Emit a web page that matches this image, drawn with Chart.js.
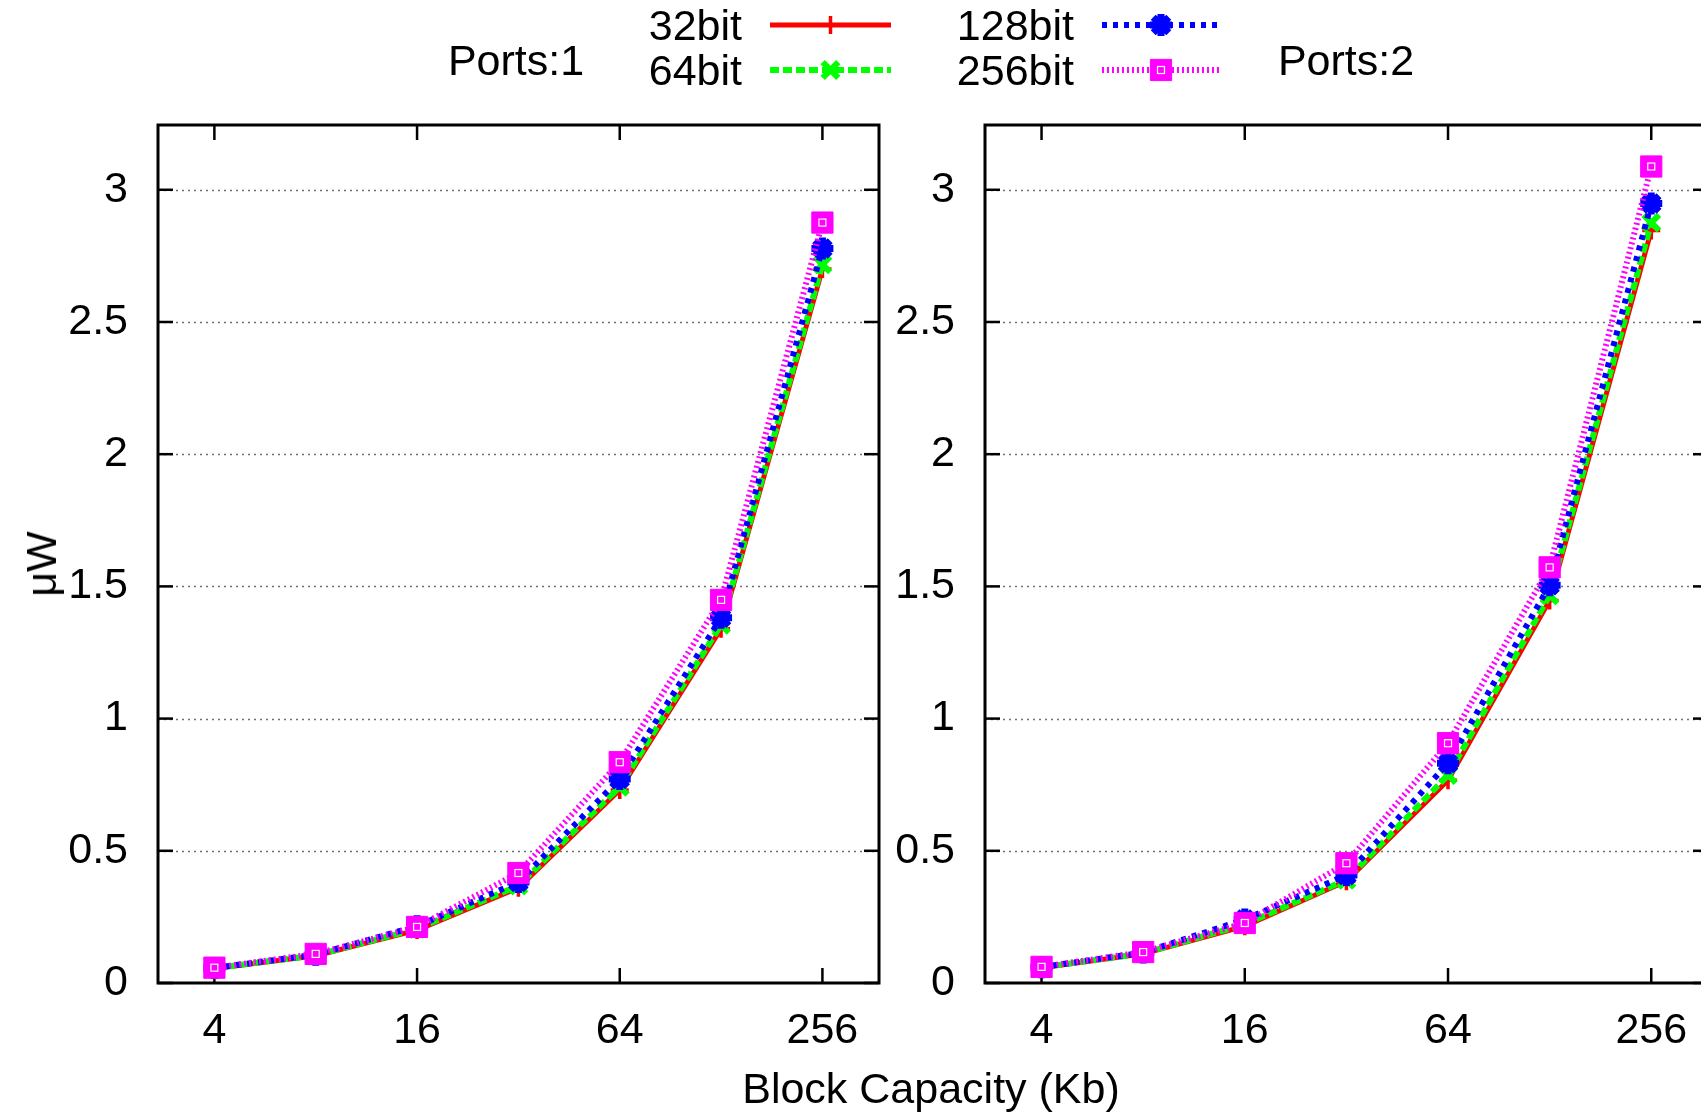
<!DOCTYPE html>
<html>
<head>
<meta charset="utf-8">
<title>Block capacity power</title>
<script src="https://cdn.jsdelivr.net/npm/chart.js"></script>
<style>
  html, body { margin: 0; padding: 0; background: #fff; overflow: hidden; }
  body { width: 1701px; height: 1112px; position: relative; font-family: "Liberation Sans", Arial, sans-serif; color: #000; }
  canvas { position: absolute; top: 0; }
  #left { left: 0; }
  #right { left: 827px; }
  #keys { left: 0; pointer-events: none; }
  .lbl { position: absolute; font-size: 43px; line-height: 42px; height: 42px; white-space: nowrap; }
</style>
</head>
<body>
  <canvas id="left" width="920" height="1112"></canvas>
  <canvas id="right" width="922" height="1112"></canvas>
  <canvas id="keys" width="1701" height="100"></canvas>

  <div class="lbl" style="left:516px; top:39px; transform:translateX(-50%)">Ports:1</div>
  <div class="lbl" style="right:959px; top:4px">32bit</div>
  <div class="lbl" style="right:959px; top:49px">64bit</div>
  <div class="lbl" style="right:627px; top:4px">128bit</div>
  <div class="lbl" style="right:627px; top:49px">256bit</div>
  <div class="lbl" style="left:1346px; top:39px; transform:translateX(-50%)">Ports:2</div>
  <div class="lbl" style="left:931px; top:1067px; transform:translateX(-50%)">Block Capacity (Kb)</div>
  <div class="lbl" style="left:41px; top:564px; transform:translate(-50%, -50%) rotate(-90deg)">μW</div>

<script>
// block sizes in Kb
const CAPACITY = [4, 8, 16, 32, 64, 128, 256];
const X_TICKS = [4, 16, 64, 256];
const Y_TICKS = [0, 0.5, 1, 1.5, 2, 2.5, 3];
const SERIES_NAMES = ['32bit', '64bit', '128bit', '256bit'];

// power (uW), single port
const P1_32 = [0.055, 0.103, 0.200, 0.360, 0.730, 1.340, 2.700];
const P1_64 = [0.056, 0.105, 0.205, 0.368, 0.742, 1.355, 2.718];
const P1_128 = [0.057, 0.107, 0.215, 0.382, 0.772, 1.381, 2.778];
const P1_256 = [0.058, 0.110, 0.212, 0.416, 0.835, 1.449, 2.876];

// power (uW), dual port
const P2_32 = [0.058, 0.110, 0.215, 0.385, 0.767, 1.447, 2.846];
const P2_64 = [0.059, 0.112, 0.222, 0.390, 0.786, 1.466, 2.876];
const P2_128 = [0.060, 0.115, 0.240, 0.408, 0.831, 1.504, 2.948];
const P2_256 = [0.061, 0.117, 0.227, 0.453, 0.907, 1.572, 3.088];

const FONT = '"Liberation Sans", Arial, sans-serif';

const STYLES = [
  { color: '#ff0000', width: 5, dash: [], point: 'cross', radius: 9, pw: 3.5 },
  { color: '#00ff00', width: 6, dash: [9, 4], point: 'crossRot', radius: 11, pw: 6 },
  { color: '#0000ff', width: 6, dash: [5, 6], point: 'star', radius: 11, pw: 7 },
  { color: '#ff00ff', width: 6, dash: [2, 3], point: 'rect', radius: 15, pw: 1 }
];

function makeDatasets(series) {
  return series.map((vals, i) => {
    const s = STYLES[i];
    return {
      label: SERIES_NAMES[i],
      data: CAPACITY.map((c, j) => ({ x: c, y: vals[j] })),
      borderColor: s.color,
      backgroundColor: s.color,
      borderWidth: s.width,
      borderDash: s.dash,
      tension: 0,
      pointStyle: s.point,
      pointRadius: s.radius,
      pointBorderWidth: s.pw,
      pointBackgroundColor: s.color,
      pointBorderColor: s.color,
      order: 3 - i // later series drawn on top
    };
  });
}

// gnuplot-like box: dotted grid, inward ticks on all four sides
const framePlugin = {
  id: 'frame',
  beforeDatasetsDraw(chart) {
    const { ctx, chartArea: a } = chart;
    const x = chart.scales.x, y = chart.scales.y;
    const seg = (x1, y1, x2, y2) => { ctx.beginPath(); ctx.moveTo(x1, y1); ctx.lineTo(x2, y2); ctx.stroke(); };
    ctx.save();
    ctx.strokeStyle = '#707070';
    ctx.lineWidth = 1.5;
    ctx.setLineDash([2, 4]);
    Y_TICKS.forEach(v => {
      if (v === 0) return;
      const py = Math.round(y.getPixelForValue(v)) + 0.5;
      seg(a.left, py, a.right, py);
    });
    ctx.setLineDash([]);
    ctx.strokeStyle = '#000';
    ctx.lineWidth = 2.5;
    const tl = 15;
    Y_TICKS.forEach(v => {
      const py = y.getPixelForValue(v);
      seg(a.left, py, a.left + tl, py);
      seg(a.right, py, a.right - tl, py);
    });
    X_TICKS.forEach(v => {
      const px = x.getPixelForValue(v);
      seg(px, a.bottom, px, a.bottom - tl);
      seg(px, a.top, px, a.top + tl);
    });
    ctx.lineWidth = 3;
    ctx.strokeRect(a.left, a.top, a.right - a.left, a.bottom - a.top);
    ctx.restore();
  },
  afterDatasetsDraw(chart) {
    // small hollow centre on the square markers
    const { ctx } = chart;
    const meta = chart.getDatasetMeta(3);
    ctx.save();
    ctx.strokeStyle = '#fff';
    ctx.lineWidth = 1.2;
    meta.data.forEach(pt => ctx.strokeRect(pt.x - 3.5, pt.y - 3.5, 7, 7));
    ctx.restore();
  }
};

function makeChart(id, series) {
  return new Chart(document.getElementById(id), {
    type: 'line',
    data: { datasets: makeDatasets(series) },
    options: {
      responsive: false,
      animation: false,
      events: [],
      layout: { padding: { top: 125, right: 41, bottom: 0, left: 0 } },
      plugins: { legend: { display: false }, tooltip: { enabled: false } },
      scales: {
        x: {
          type: 'logarithmic',
          min: 2.72,
          max: 377,
          afterBuildTicks: s => { s.ticks = X_TICKS.map(v => ({ value: v })); },
          afterFit: s => { s.height = 129; },
          grid: { display: false, drawTicks: false },
          border: { display: false },
          ticks: {
            color: '#000', padding: 22, maxRotation: 0, autoSkip: false,
            font: { family: FONT, size: 43 },
            callback: v => String(v)
          }
        },
        y: {
          type: 'linear',
          min: 0,
          max: 3.245,
          afterBuildTicks: s => { s.ticks = Y_TICKS.map(v => ({ value: v })); },
          afterFit: s => { s.width = 158; },
          grid: { display: false, drawTicks: false },
          border: { display: false },
          ticks: {
            color: '#000', padding: 30,
            font: { family: FONT, size: 43 },
            callback: v => String(v)
          }
        }
      }
    },
    plugins: [framePlugin]
  });
}

makeChart('left', [P1_32, P1_64, P1_128, P1_256]);
makeChart('right', [P2_32, P2_64, P2_128, P2_256]);

// key samples
const keys = document.getElementById('keys').getContext('2d');
const KEY_POS = [
  { x1: 770, x2: 891, y: 25 },
  { x1: 770, x2: 891, y: 70 },
  { x1: 1102, x2: 1220, y: 25 },
  { x1: 1102, x2: 1220, y: 70 }
];
KEY_POS.forEach((p, i) => {
  const s = STYLES[i];
  keys.save();
  keys.strokeStyle = s.color;
  keys.fillStyle = s.color;
  keys.lineWidth = s.width;
  keys.setLineDash(s.dash);
  keys.beginPath();
  keys.moveTo(p.x1, p.y);
  keys.lineTo(p.x2, p.y);
  keys.stroke();
  keys.setLineDash([]);
  keys.lineWidth = s.pw;
  const cx = (p.x1 + p.x2) / 2;
  if (Chart.helpers && Chart.helpers.drawPoint) {
    Chart.helpers.drawPoint(keys, { pointStyle: s.point, radius: s.radius, borderWidth: s.pw, rotation: 0 }, cx, p.y);
  }
  if (i === 3) {
    keys.strokeStyle = '#fff';
    keys.lineWidth = 1.2;
    keys.strokeRect(cx - 3.5, p.y - 3.5, 7, 7);
  }
  keys.restore();
});
</script>
</body>
</html>
